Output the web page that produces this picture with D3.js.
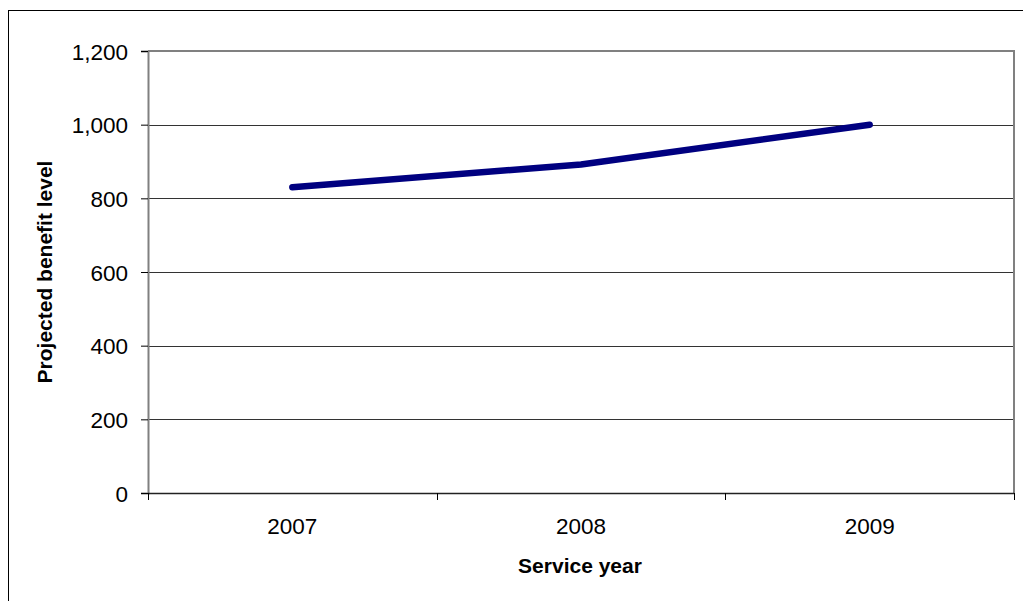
<!DOCTYPE html>
<html><head><meta charset="utf-8">
<script src="https://cdn.jsdelivr.net/npm/d3@7"></script>
<style>body{margin:0;background:#fff}svg{display:block}text{font-family:"Liberation Sans",Arial,sans-serif}</style>
</head><body>
<svg id="c" width="1023" height="601"></svg>
<script>
const categories = ["2007", "2008", "2009"];
const values = [830, 892, 1000];
const yTicks = [0, 200, 400, 600, 800, 1000, 1200];
const xTitle = "Service year";
const yTitle = "Projected benefit level";

const svg = d3.select("#c");
const L = 148, R = 1014, T = 51, B = 493;

// outer border
svg.append("rect").attr("x", 8.5).attr("y", 10.5).attr("width", 1030).attr("height", 600)
  .attr("fill", "none").attr("stroke", "#000").attr("stroke-width", 1);

const x = d3.scaleBand().domain(categories).range([L, R]).padding(0);
const y = d3.scaleLinear().domain([0, 1200]).range([B, T]);

// gridlines
svg.append("g").selectAll("line").data(yTicks.filter(d => d > 0 && d < 1200)).join("line")
  .attr("x1", L).attr("x2", R).attr("y1", d => Math.round(y(d)) + 0.5).attr("y2", d => Math.round(y(d)) + 0.5)
  .attr("stroke", "#333").attr("stroke-width", 1);

// plot border (top/right gray)
svg.append("path").attr("d", `M${L},${T}H${R}V${B}`).attr("fill", "none")
  .attr("stroke", "#808080").attr("stroke-width", 2);

// y axis
const yAxis = d3.axisLeft(y).tickValues(yTicks).tickSize(7).tickPadding(13).tickFormat(d3.format(","));
const gy = svg.append("g").attr("transform", `translate(${L},0)`).call(yAxis);
gy.attr("font-size", null).attr("font-family", null);
gy.select(".domain").attr("stroke", "#808080").attr("stroke-width", 2);
gy.selectAll(".tick line").attr("stroke", "#000");
gy.selectAll(".tick text").style("font-size", "22.5px").attr("fill", "#000").attr("dy", "0.36em");

// x axis
const gx = svg.append("g").attr("transform", `translate(0,${B})`);
gx.append("line").attr("x1", L).attr("x2", R).attr("y1", 0.5).attr("y2", 0.5).attr("stroke", "#222").attr("stroke-width", 1.5);
const bounds = categories.map(c => x(c)).concat([x(categories[categories.length-1]) + x.bandwidth()]);
gx.selectAll("line.tk").data(bounds).join("line").attr("class", "tk")
  .attr("x1", d => Math.round(d) + 0.5).attr("x2", d => Math.round(d) + 0.5).attr("y1", 0).attr("y2", 7)
  .attr("stroke", "#000");
gx.selectAll("text").data(categories).join("text")
  .attr("x", d => x(d) + x.bandwidth() / 2).attr("y", 41).attr("text-anchor", "middle")
  .style("font-size", "22.5px").attr("fill", "#000").text(d => d);

// titles
svg.append("text").attr("x", (L + R) / 2 - 1).attr("y", 573).attr("text-anchor", "middle")
  .style("font-size", "21px").attr("font-weight", "bold").text(xTitle);
svg.append("text").attr("transform", `translate(52,${(T + B) / 2}) rotate(-90)`).attr("text-anchor", "middle")
  .style("font-size", "21px").attr("font-weight", "bold").text(yTitle);

// line
const line = d3.line().x((d, i) => x(categories[i]) + x.bandwidth() / 2).y(d => y(d));
svg.append("path").datum(values).attr("d", line).attr("fill", "none")
  .attr("stroke", "#000080").attr("stroke-width", 6.5).attr("stroke-linecap", "round").attr("stroke-linejoin", "round");
</script>
</body></html>
